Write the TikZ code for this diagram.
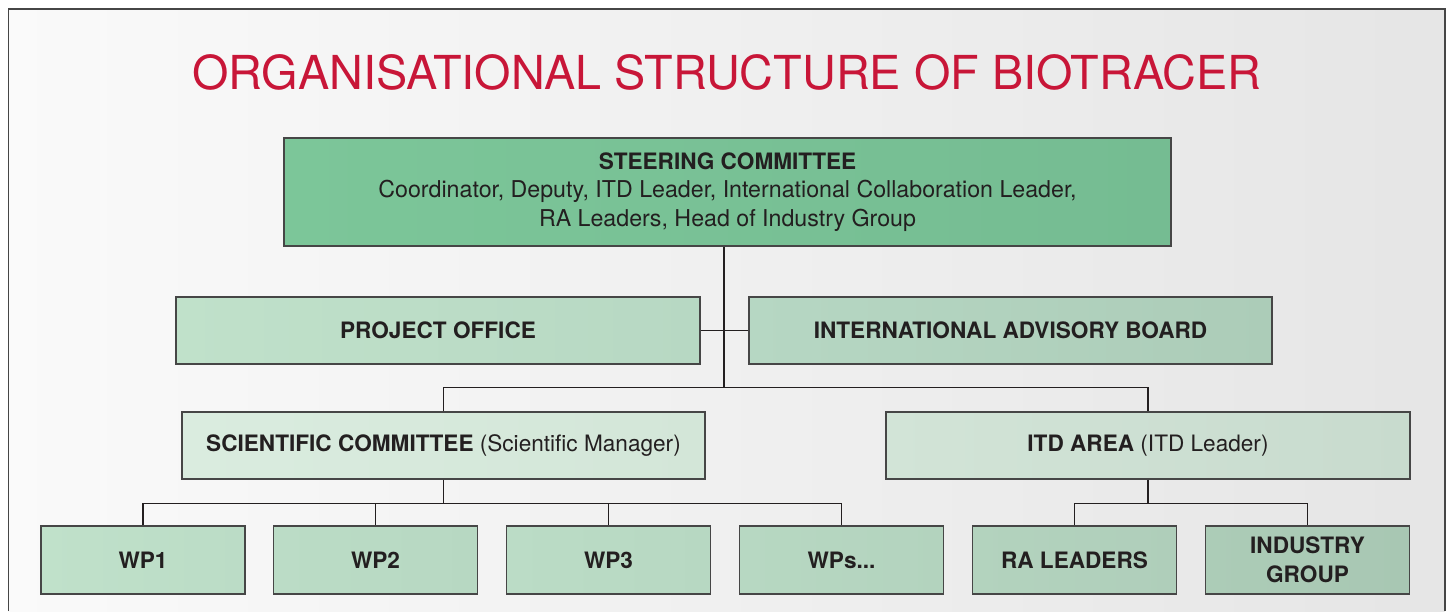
\documentclass[tikz,border=0pt]{standalone}
\usepackage{fontspec}
\setmainfont{TeX Gyre Heros}
\usetikzlibrary{calc}
\definecolor{titlered}{RGB}{200,22,56}
\definecolor{ink}{RGB}{35,31,32}
\definecolor{boxline}{RGB}{70,70,70}
\definecolor{steerL}{RGB}{124,198,153}
\definecolor{steerR}{RGB}{117,188,146}
\definecolor{poL}{RGB}{192,225,202}
\definecolor{poR}{RGB}{183,216,195}
\definecolor{iabL}{RGB}{182,215,195}
\definecolor{iabR}{RGB}{172,204,184}
\definecolor{scL}{RGB}{218,236,223}
\definecolor{scR}{RGB}{211,230,216}
\definecolor{itdL}{RGB}{210,228,215}
\definecolor{itdR}{RGB}{200,219,206}
\definecolor{wpA}{RGB}{192,225,202}
\definecolor{wpB}{RGB}{187,220,198}
\definecolor{wpC}{RGB}{183,216,194}
\definecolor{wpD}{RGB}{179,211,190}
\definecolor{wpE}{RGB}{175,206,186}
\definecolor{wpF}{RGB}{172,204,183}
\definecolor{wpG}{RGB}{168,199,179}
\tikzset{
  box/.style 2 args={draw=boxline, line width=1.4pt, left color=#1, right color=#2,
    rectangle, inner sep=0pt, align=center, text=ink,
    font=\fontsize{22.6}{28.5}\selectfont},
  link/.style={draw=ink, line width=1.1pt}
}
\begin{document}
\begin{tikzpicture}[x=1pt,y=-1pt]
        \useasboundingbox (0,0) rectangle (1451,611);
        % frame and background
        \shade[left color=white!98!black, right color=black!10] (8.5,9) rectangle (1445,611);
        \draw[boxline, line width=1.5pt] (8.5,611) -- (8.5,9) -- (1445,9) -- (1445,611);
        \node[text=titlered, font=\fontsize{46.8}{50}\selectfont] (title) at (727,72) {ORGANISATIONAL STRUCTURE OF BIOTRACER};
        % top level
        \node[box={steerL}{steerR}, minimum width=887pt, minimum height=108pt] (steer) at (727.5,192)
            {\textbf{STEERING COMMITTEE}\\\fontsize{23.2}{28.5}\selectfont Coordinator, Deputy, ITD Leader, International Collaboration Leader,\\\fontsize{23.2}{28.5}\selectfont RA Leaders, Head of Industry Group};
        \node[box={poL}{poR}, minimum width=524pt, minimum height=67pt] (po) at (438,330.5) {\textbf{PROJECT OFFICE}};
        \node[box={iabL}{iabR}, minimum width=523pt, minimum height=67pt] (iab) at (1010.5,330.5) {\textbf{INTERNATIONAL ADVISORY BOARD}};
        % middle level
        \node[box={scL}{scR}, minimum width=523pt, minimum height=67pt] (sc) at (443.5,445.5) {\textbf{SCIENTIFIC COMMITTEE} (Scientific Manager)};
        \node[box={itdL}{itdR}, minimum width=524pt, minimum height=67pt] (itd) at (1148,445.5) {\textbf{ITD AREA} (ITD Leader)};
        % work packages
        \node[box={wpA}{wpB}, minimum width=204pt, minimum height=68pt] (wp1) at (143,560) {\textbf{WP1}};
        \node[box={wpB}{wpC}, minimum width=204pt, minimum height=68pt] (wp2) at (375.5,560) {\textbf{WP2}};
        \node[box={wpB}{wpC}, minimum width=204pt, minimum height=68pt] (wp3) at (608.5,560) {\textbf{WP3}};
        \node[box={wpC}{wpD}, minimum width=204pt, minimum height=68pt] (wps) at (841.5,560) {\textbf{WPs...}};
        \node[box={wpD}{wpE}, minimum width=204pt, minimum height=68pt] (ra) at (1074.5,560) {\textbf{RA LEADERS}};
        \node[box={wpF}{wpG}, minimum width=204pt, minimum height=68pt] (ig) at (1307.5,560) {\textbf{INDUSTRY}\\\textbf{GROUP}};
        % connectors
        \coordinate (bus1) at ($(steer.south)+(-3.5,141)$);
        \coordinate (bus2) at ($(sc.south)+(0,24)$);
        \coordinate (bus3) at ($(itd.south)+(0,24)$);
        \draw[link] (steer.south -| bus1) -- (bus1);
        \draw[link] (po.east) -- (iab.west);
        \draw[link] (sc.north) |- (bus1) -| (itd.north);
        \draw[link] (sc.south) -- (bus2);
        \draw[link] (wp1.north) |- (bus2) -| (wps.north);
        \draw[link] (wp2.north) -- (wp2.north |- bus2);
        \draw[link] (wp3.north) -- (wp3.north |- bus2);
        \draw[link] (itd.south) -- (bus3);
        \draw[link] (ra.north) |- (bus3) -| (ig.north);
    \end{tikzpicture}
\end{document}
